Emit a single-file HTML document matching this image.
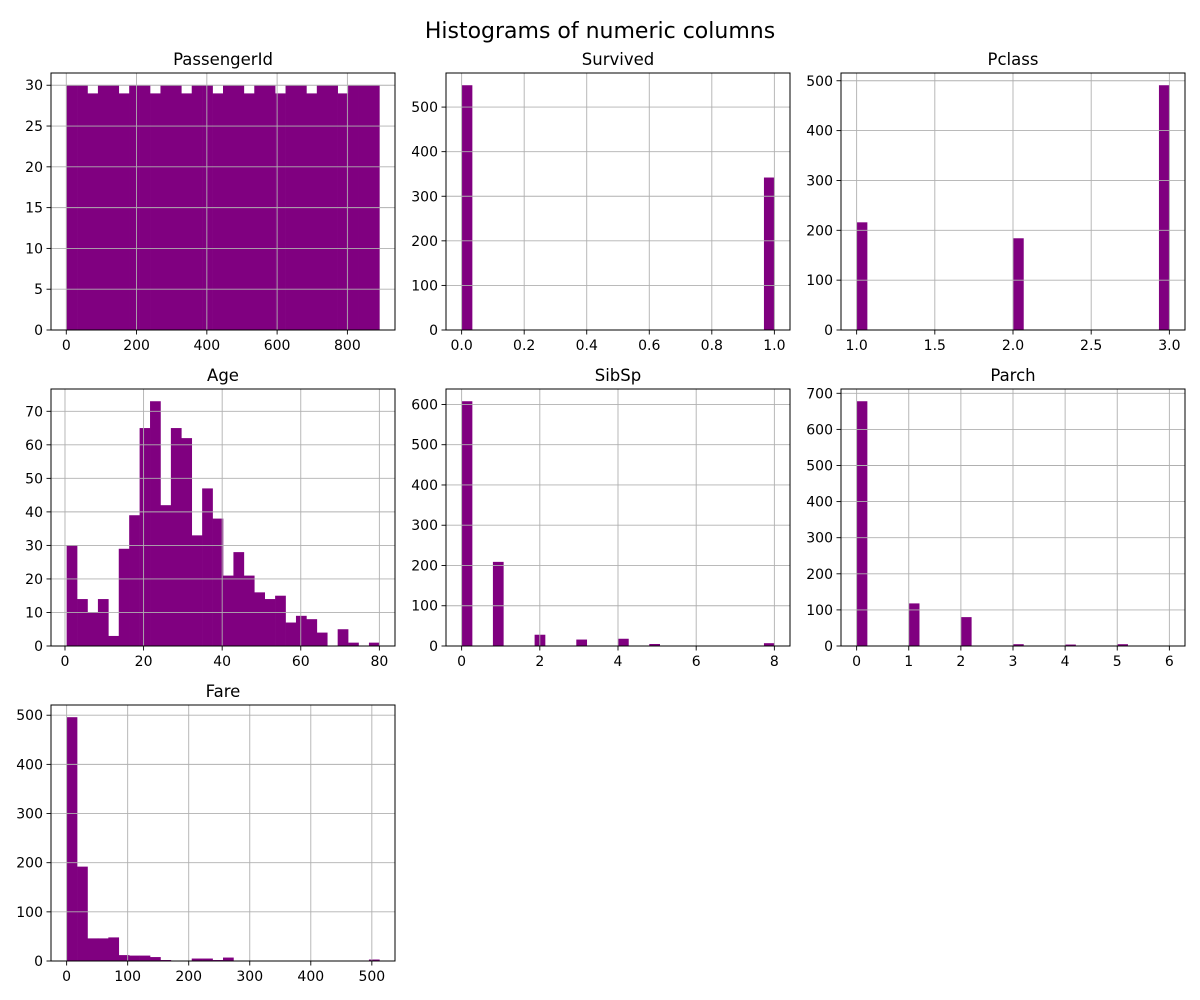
<!DOCTYPE html>
<html><head><meta charset="utf-8">
<style>
body{margin:0;background:#fff;}
svg{display:block;font-family:"DejaVu Sans","Liberation Sans",sans-serif;}
</style></head>
<body>
<svg id="fig" width="1200" height="1000" viewBox="0 0 1200 1000">
<rect width="1200" height="1000" fill="#fff"/>
<text x="600" y="38" text-anchor="middle" font-size="22" fill="#000">Histograms of numeric columns</text>
</svg>
<script>
// ---- data ----
const passengerCounts = [30,30,29,30,30,29,30,30,29,30,30,29,30,30,29,30,30,29,30,30,29,30,30,29,30,30,29,30,30,30];
const passengerRange = [1, 891];
const passengerYTicks = [0,5,10,15,20,25,30];
const passengerXTicks = [0,200,400,600,800];

const survivedCounts = [549,0,0,0,0,0,0,0,0,0,0,0,0,0,0,0,0,0,0,0,0,0,0,0,0,0,0,0,0,342];
const survivedRange = [0, 1];
const survivedYTicks = [0,100,200,300,400,500];
const survivedXTicks = [0,0.2,0.4,0.6,0.8,1.0];

const pclassCounts = [216,0,0,0,0,0,0,0,0,0,0,0,0,0,0,184,0,0,0,0,0,0,0,0,0,0,0,0,0,491];
const pclassRange = [1, 3];
const pclassYTicks = [0,100,200,300,400,500];
const pclassXTicks = [1.0,1.5,2.0,2.5,3.0];

const ageCounts = [30,14,10,14,3,29,39,65,73,42,65,62,33,47,38,21,28,21,16,14,15,7,9,8,4,0,5,1,0,1];
const ageRange = [0.42, 80];
const ageYTicks = [0,10,20,30,40,50,60,70];
const ageXTicks = [0,20,40,60,80];

const sibspCounts = [608,0,0,209,0,0,0,28,0,0,0,16,0,0,0,18,0,0,5,0,0,0,0,0,0,0,0,0,0,7];
const sibspRange = [0, 8];
const sibspYTicks = [0,100,200,300,400,500,600];
const sibspXTicks = [0,2,4,6,8];

const parchCounts = [678,0,0,0,0,118,0,0,0,0,80,0,0,0,0,5,0,0,0,0,4,0,0,0,0,5,0,0,0,1];
const parchRange = [0, 6];
const parchYTicks = [0,100,200,300,400,500,600,700];
const parchXTicks = [0,1,2,3,4,5,6];

const fareCounts = [496,192,46,46,48,12,11,11,8,2,0,0,5,5,2,7,0,0,0,0,0,0,0,0,0,0,0,0,0,3];
const fareRange = [0, 512.33];
const fareYTicks = [0,100,200,300,400,500];
const fareXTicks = [0,100,200,300,400,500];

// ---- drawing ----
const NS = 'http://www.w3.org/2000/svg';
const svg = document.getElementById('fig');
function mk(tag, attrs, parent){
  const e = document.createElementNS(NS, tag);
  for (const k in attrs) e.setAttribute(k, attrs[k]);
  (parent||svg).appendChild(e);
  return e;
}
function fmt(v, dec){ return dec ? v.toFixed(dec) : String(v); }

function panel(slug, title, box, counts, range, yTicks, xTicks, xdec){
  const [L,T,R,B] = box;
  const g = mk('g', {});
  
  
  const n = counts.length;
  const w = (range[1]-range[0])/n;
  const pad = (range[1]-range[0])*0.05;
  const x0 = range[0]-pad, x1 = range[1]+pad;
  const ymax = Math.max(...counts)*1.05;
  const sx = v => L + (v-x0)/(x1-x0)*(R-L);
  const sy = v => B - v/ymax*(B-T);
  counts.forEach((c,i)=>{
    if (c<=0) return;
    const r = mk('rect', {x:sx(range[0]+i*w), y:sy(c), width:sx(range[0]+(i+1)*w)-sx(range[0]+i*w)+0.3, height:B-sy(c), fill:'#800080'}, g);
    
    
  });
  xTicks.forEach(t=>{
    const x = sx(t);
    mk('line', {x1:x, x2:x, y1:T, y2:B, stroke:'#b0b0b0', 'stroke-width':0.9}, g);
    mk('line', {x1:x, x2:x, y1:B, y2:B+4.5, stroke:'#000', 'stroke-width':0.9}, g);
    const tx = mk('text', {x:x, y:B+20, 'text-anchor':'middle', 'font-size':14}, g);
    tx.textContent = fmt(t, xdec);
    
    
  });
  yTicks.forEach(t=>{
    const y = sy(t);
    mk('line', {x1:L, x2:R, y1:y, y2:y, stroke:'#b0b0b0', 'stroke-width':0.9}, g);
    mk('line', {x1:L-4.5, x2:L, y1:y, y2:y, stroke:'#000', 'stroke-width':0.9}, g);
    const ty = mk('text', {x:L-8, y:y+5, 'text-anchor':'end', 'font-size':14}, g);
    ty.textContent = t;
    
    
  });
  mk('rect', {x:L, y:T, width:R-L, height:B-T, fill:'none', stroke:'#000', 'stroke-width':1}, g);
  const tt = mk('text', {x:(L+R)/2, y:T-8, 'text-anchor':'middle', 'font-size':16.5}, g);
  tt.textContent = title;
  
  
}

const cols = [[51,395],[446,790],[841,1185]];
const rows = [[73,330],[389,646],[705,961]];
function box(r,c){ return [cols[c][0], rows[r][0], cols[c][1], rows[r][1]]; }

panel('passengerid','PassengerId',box(0,0),passengerCounts,passengerRange,passengerYTicks,passengerXTicks,0);
panel('survived','Survived',box(0,1),survivedCounts,survivedRange,survivedYTicks,survivedXTicks,1);
panel('pclass','Pclass',box(0,2),pclassCounts,pclassRange,pclassYTicks,pclassXTicks,1);
panel('age','Age',box(1,0),ageCounts,ageRange,ageYTicks,ageXTicks,0);
panel('sibsp','SibSp',box(1,1),sibspCounts,sibspRange,sibspYTicks,sibspXTicks,0);
panel('parch','Parch',box(1,2),parchCounts,parchRange,parchYTicks,parchXTicks,0);
panel('fare','Fare',box(2,0),fareCounts,fareRange,fareYTicks,fareXTicks,0);
</script>
</body></html>
